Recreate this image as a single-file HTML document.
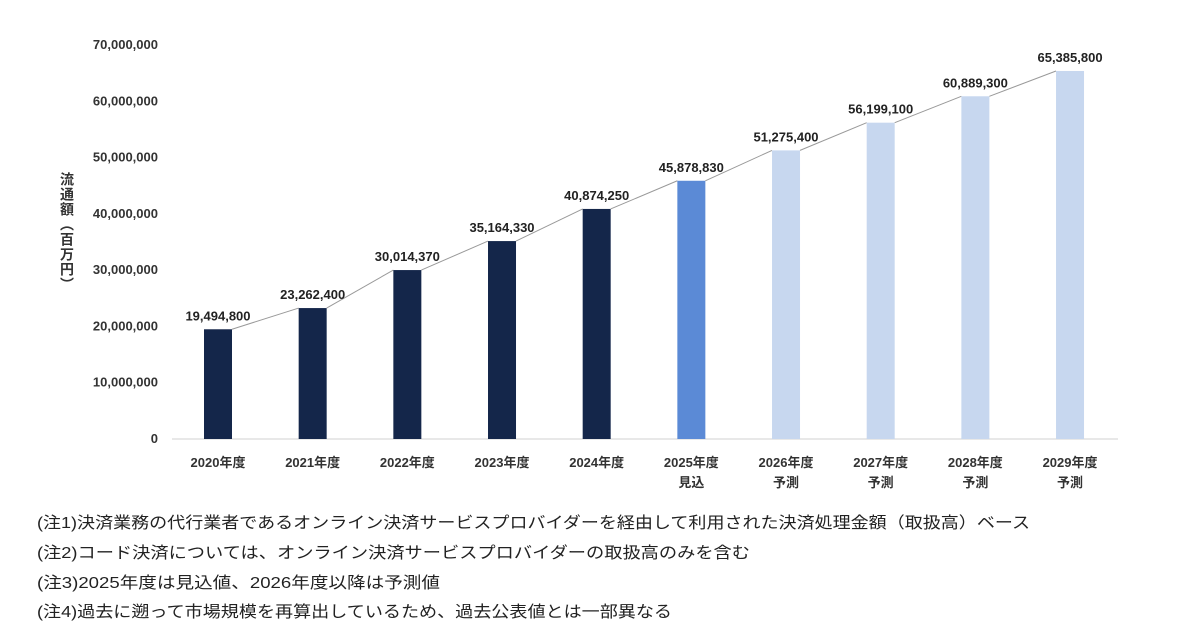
<!DOCTYPE html>
<html><head><meta charset="utf-8"><style>
body{margin:0;background:#fff;}
svg text{font-family:"Liberation Sans","Noto Sans CJK JP",sans-serif;}
</style></head><body>
<svg id="c" width="1200" height="630">
<text x="67" y="232" font-size="14" font-weight="bold" fill="#333" style="writing-mode:vertical-rl;letter-spacing:1px" text-anchor="middle">流通額（百万円）</text>
<g id="notes" font-size="16" fill="#222">
<text x="37" y="528" textLength="993" lengthAdjust="spacingAndGlyphs">(注1)決済業務の代行業者であるオンライン決済サービスプロバイダーを経由して利用された決済処理金額（取扱高）ベース</text>
<text x="37" y="558" textLength="713" lengthAdjust="spacingAndGlyphs">(注2)コード決済については、オンライン決済サービスプロバイダーの取扱高のみを含む</text>
<text x="37" y="588" textLength="403" lengthAdjust="spacingAndGlyphs">(注3)2025年度は見込値、2026年度以降は予測値</text>
<text x="37" y="617" textLength="635" lengthAdjust="spacingAndGlyphs">(注4)過去に遡って市場規模を再算出しているため、過去公表値とは一部異なる</text>
</g>
</svg>
<script>
const categories=["2020年度","2021年度","2022年度","2023年度","2024年度","2025年度","2026年度","2027年度","2028年度","2029年度"];
const subLabels=["","","","","","見込","予測","予測","予測","予測"];
const values=[19494800,23262400,30014370,35164330,40874250,45878830,51275400,56199100,60889300,65385800];
const barKinds=["actual","actual","actual","actual","actual","estimate","forecast","forecast","forecast","forecast"];
const yTicks=[0,10000000,20000000,30000000,40000000,50000000,60000000,70000000];
const NS="http://www.w3.org/2000/svg";
const svg=document.getElementById('c');
const y0=439,yTop=45,yMax=70000000;
const y=v=>y0-(v/yMax)*(y0-yTop);
const x0=218,step=94.67;
const x=i=>x0+i*step;
const bw=28;
const colors={actual:"#14264a",estimate:"#5b8ad6",forecast:"#c7d7ef"};
function mk(tag,attrs){const e=document.createElementNS(NS,tag);for(const k in attrs)e.setAttribute(k,attrs[k]);svg.appendChild(e);return e;}
const fmt=v=>v.toLocaleString('en-US');
yTicks.forEach(t=>{
 const e=mk('text',{x:158,y:y(t)+4,'text-anchor':'end','font-size':13,'font-weight':'bold',fill:'#333'});
 e.textContent=fmt(t);
 
 
});
const ax=mk('line',{x1:172,x2:1118,y1:y0,y2:y0,stroke:'#d0d0d0','stroke-width':1});


values.forEach((v,i)=>{
 const r=mk('rect',{x:x(i)-bw/2,y:y(v),width:bw,height:y0-y(v),fill:colors[barKinds[i]]});
 
 
 if(i<values.length-1){
  const l=mk('line',{x1:x(i)+bw/2,y1:y(v),x2:x(i+1)-bw/2,y2:y(values[i+1]),stroke:'#999','stroke-width':1});
  
  
 }
 const t=mk('text',{x:x(i),y:y(v)-9,'text-anchor':'middle','font-size':13,'font-weight':'bold',fill:'#222'});
 t.textContent=fmt(v);
 
 
 const c=mk('text',{x:x(i),y:467,'text-anchor':'middle','font-size':13,'font-weight':'bold',fill:'#333'});
 c.textContent=categories[i];
 
 
 if(subLabels[i]){
  const s=mk('text',{x:x(i),y:487,'text-anchor':'middle','font-size':13,'font-weight':'bold',fill:'#333'});
  s.textContent=subLabels[i];
  
  
 }
});
</script>
</body></html>
